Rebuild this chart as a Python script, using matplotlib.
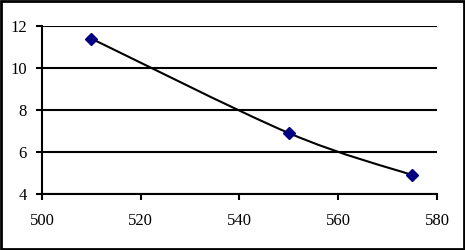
import matplotlib
matplotlib.use("Agg")
import matplotlib.pyplot as plt
from matplotlib.patches import Rectangle
from matplotlib.path import Path
from matplotlib.patches import PathPatch
import numpy as np

x_vals = [510, 550, 575]
y_vals = [11.4, 6.9, 4.9]
x_ticks = [500, 520, 540, 560, 580]
y_ticks = [4, 6, 8, 10, 12]


def smooth_path(xs, ys):
    # Excel-like smoothed line: cubic Bezier through the points
    pts = np.column_stack([xs, ys]).astype(float)
    n = len(pts)
    verts = [pts[0]]
    codes = [Path.MOVETO]
    for i in range(n - 1):
        p0 = pts[i - 1] if i > 0 else pts[i]
        p1 = pts[i]
        p2 = pts[i + 1]
        p3 = pts[i + 2] if i + 2 < n else pts[i + 1]
        c1 = p1 + (p2 - p0) / 6.0
        c2 = p2 - (p3 - p1) / 6.0
        verts += [c1, c2, p2]
        codes += [Path.CURVE4] * 3
    return Path(verts, codes)


plt.rcParams['font.family'] = ['Liberation Serif', 'DejaVu Serif']

fig = plt.figure(figsize=(4.65, 2.5), dpi=100)
ax = fig.add_axes([0.0903, 0.224, 0.8495, 0.672])

for y in y_ticks:
    ax.axhline(y, color='black', lw=1.5, zorder=1)

ax.add_patch(PathPatch(smooth_path(x_vals, y_vals), fill=False,
                       edgecolor='black', lw=1.5, zorder=2))
ax.plot(x_vals, y_vals, linestyle='none', marker='D', markersize=6,
        color='#000080', zorder=3)

ax.set_xlim(500, 580)
ax.set_ylim(4, 12)
ax.set_xticks(x_ticks)
ax.set_yticks(y_ticks)
ax.tick_params(direction='out', length=4, width=1.5, labelsize=12,
               colors='black')
ax.tick_params(axis='y', pad=7)
ax.tick_params(axis='x', pad=10)
for side in ['top', 'right']:
    ax.spines[side].set_visible(False)
for side in ['left', 'bottom']:
    ax.spines[side].set_linewidth(1.5)

fig.patches.append(Rectangle((0.002, 0.004), 0.996, 0.992,
                             transform=fig.transFigure, fill=False,
                             edgecolor='black', lw=2))

fig.savefig('out.png', dpi=100)
